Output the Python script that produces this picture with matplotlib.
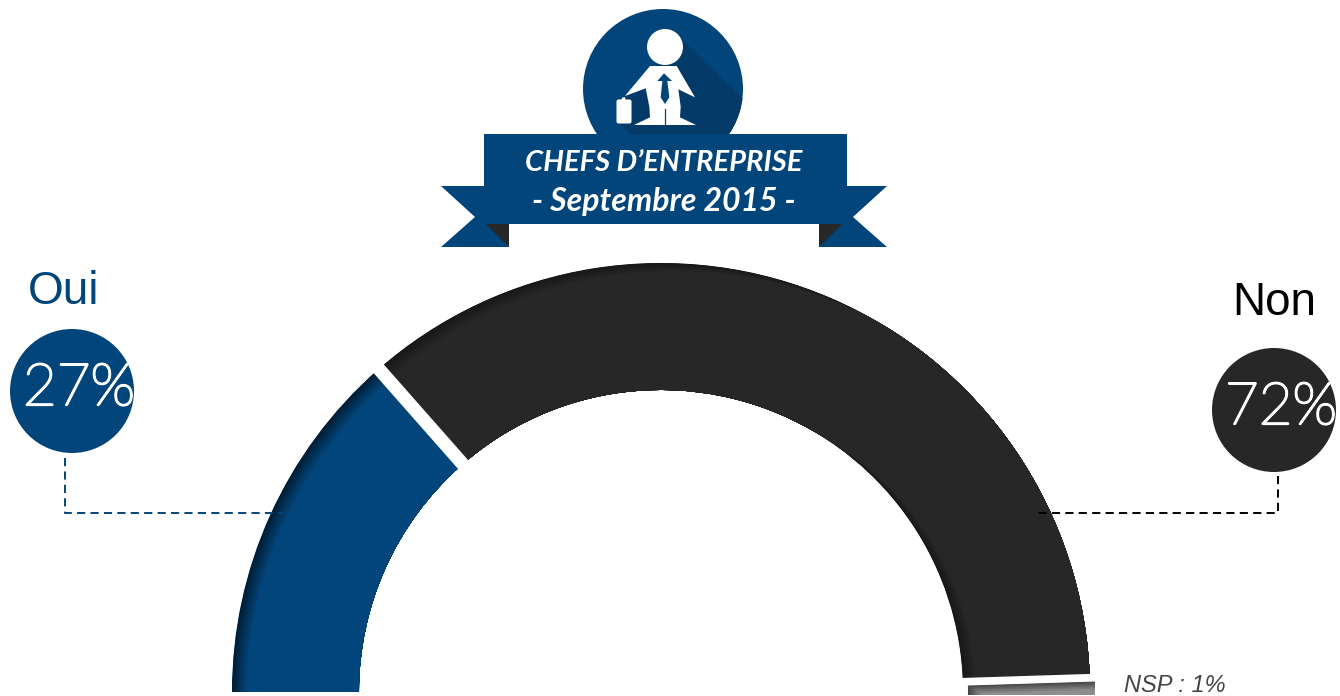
import numpy as np
import matplotlib
matplotlib.use("Agg")
import matplotlib.pyplot as plt
import matplotlib.patheffects as pe
from matplotlib.patches import Wedge, Circle, Polygon, FancyBboxPatch
from matplotlib.colors import to_rgb

# data
categories = ["Oui", "Non", "NSP"]
values = [27, 72, 1]
title_lines = ["CHEFS D\u2019ENTREPRISE", "- Septembre 2015 -"]

BLUE = "#02457a"
DARK = "#272727"
GREY = "#8e8e8e"
W, H = 1340, 696
colors = [BLUE, DARK, GREY]
shadow_floor = [0.42, 0.6, 0.5]


def Y(y):
    # picture pixels run downwards, the axes upwards
    return H - y


def P(pts):
    return [(x, Y(y)) for x, y in pts]


def Z(pts):
    # points (3x, origin 580,10)
    return [(580 + x / 3, Y(10 + y / 3)) for x, y in pts]


fig = plt.figure(figsize=(W / 100, H / 100), dpi=100)
ax = fig.add_axes([0, 0, 1, 1])

# half donut: the bottom half of the pie is left hidden
cx, cy, R_out, R_in = 661, Y(692), 429, 302
hidden = sum(values)
wedges, _ = ax.pie(values + [hidden], colors=colors + ["white"], startangle=180, counterclock=False,
                   center=(cx, cy), radius=R_out, wedgeprops={"width": R_out - R_in, "linewidth": 0}, frame=True)
wedges[3].set_visible(False)
# NSP slice is pulled out a bit
wedges[2].set_center((cx + 5, cy - 3))
wedges[2].set_zorder(4)
ax.set_xlim(0, W)
ax.set_ylim(0, H)
ax.axis("off")

# inner shadow coming from the top left
n_layers = 14
for k, (w, col, floor) in enumerate(zip(wedges[:3], colors, shadow_floor)):
    base = np.array(to_rgb(col))
    c0 = w.center
    for i in range(n_layers + 1):
        t = i / n_layers
        shade = base * (floor + (1 - floor) * t)
        lay = Wedge((c0[0] + 14 * t, c0[1] - 8 * t), w.r, w.theta1, w.theta2, width=w.width, facecolor=shade,
                    linewidth=0, zorder=4 if k == 2 else 2)
        ax.add_patch(lay)
        lay.set_clip_path(w)

# white gaps between the slices
for w, lw, off in zip(wedges[:2], [9.6, 6.6], [2, 0]):
    a = np.radians(w.theta1)
    nx, ny = off * np.sin(a), -off * np.cos(a)
    ax.plot([cx + nx + (R_in - 6) * np.cos(a), cx + nx + (R_out + 6) * np.cos(a)],
            [cy + ny + (R_in - 6) * np.sin(a), cy + ny + (R_out + 6) * np.sin(a)],
            color="white", lw=lw, solid_capstyle="butt", zorder=3)

# leader lines
ax.plot([65, 65, 283], [Y(458), Y(513), Y(513)], color=BLUE, lw=1.4, dashes=(4.2, 2.7), zorder=5)
ax.plot([1278, 1278, 1038], [Y(476), Y(513), Y(513)], color="black", lw=1.4, dashes=(4.2, 2.7), zorder=5)

# value bubbles
pct_font = dict(family="Lato", weight="light", color="white", ha="center", va="center", fontsize=42, zorder=7,
                path_effects=[pe.withStroke(linewidth=1.6, foreground="white")])
ax.add_patch(Circle((72, Y(391)), 62, facecolor=BLUE, linewidth=0, zorder=6))
ax.add_patch(Circle((1274, Y(410)), 62, facecolor=DARK, linewidth=0, zorder=6))
ax.text(79, Y(389), f"{values[0]}%", **pct_font)
ax.text(1281, Y(408), f"{values[1]}%", **pct_font)
ax.text(64, Y(292), categories[0], family="Liberation Sans", fontsize=33, color=BLUE, ha="center", va="center")
ax.text(1274, Y(303), categories[1], family="Liberation Sans", fontsize=33, color="black", ha="center", va="center")
ax.text(1175, Y(685), f"{categories[2]} : {values[2]}%", family="Liberation Sans", style="italic", fontsize=17,
        color="#444444", ha="center", va="center")

# badge with the little man
badge = Circle((663, Y(89)), 80, facecolor=BLUE, linewidth=0, zorder=8)
ax.add_patch(badge)
sh = Polygon(P([(682, 40), (755, 110), (755, 140), (632, 136), (618, 122), (622, 98), (660, 62)]), facecolor="#033a68",
             linewidth=0, zorder=9)
ax.add_patch(sh)
sh.set_clip_path(badge)
ax.add_patch(Circle((665, Y(47)), 18, facecolor="white", linewidth=0, zorder=10))
ax.add_patch(Polygon(Z([(135, 258), (210, 168), (290, 168), (345, 262), (295, 238), (302, 290), (300, 322),
                        (348, 345), (162, 345), (210, 322), (208, 290), (197, 235)]),
                     facecolor="white", linewidth=0, zorder=10))
ax.add_patch(FancyBboxPatch((618, Y(122)), 12, 21, boxstyle="round,pad=1.5,rounding_size=2", facecolor="white",
                            linewidth=0, zorder=10))
ax.add_patch(Polygon(Z([(122, 272), (128, 262), (136, 262), (136, 272)]), facecolor="white", linewidth=0, zorder=10))
ax.add_patch(Polygon(Z([(252, 190), (276, 213), (262, 213), (268, 262), (255, 282), (242, 262), (247, 213), (232, 213)]),
                     facecolor=BLUE, linewidth=0, zorder=11))
ax.plot([580 + 255 / 3] * 2, [Y(10 + 296 / 3), Y(10 + 345 / 3)], color=BLUE, lw=0.9, zorder=11)

# ribbon
ribbon_left = [(441, 186), (484, 186), (484, 224), (509, 224), (509, 247), (441, 247), (475, 217)]
ribbon_right = [(887, 186), (847, 186), (847, 224), (819, 224), (819, 247), (887, 247), (853, 217)]
for pts in (ribbon_left, ribbon_right):
    ax.add_patch(Polygon(P(pts), facecolor=BLUE, linewidth=0, zorder=12))
ax.add_patch(Polygon(P([(486, 224), (509, 224), (509, 247)]), facecolor=DARK, linewidth=0, zorder=13))
ax.add_patch(Polygon(P([(842, 224), (819, 224), (819, 247)]), facecolor=DARK, linewidth=0, zorder=13))
ax.add_patch(Polygon(P([(484, 134), (847, 134), (847, 224), (484, 224)]), facecolor=BLUE, linewidth=0, zorder=13))
ax.text(664, Y(163), title_lines[0], family="Lato", weight="bold", style="italic", fontsize=21, color="white",
        ha="center", va="center", zorder=14)
ax.text(664, Y(201), title_lines[1], family="Lato", weight="bold", style="italic", fontsize=23, color="white",
        ha="center", va="center", zorder=14)

fig.savefig("out.png", dpi=100, facecolor="white")
